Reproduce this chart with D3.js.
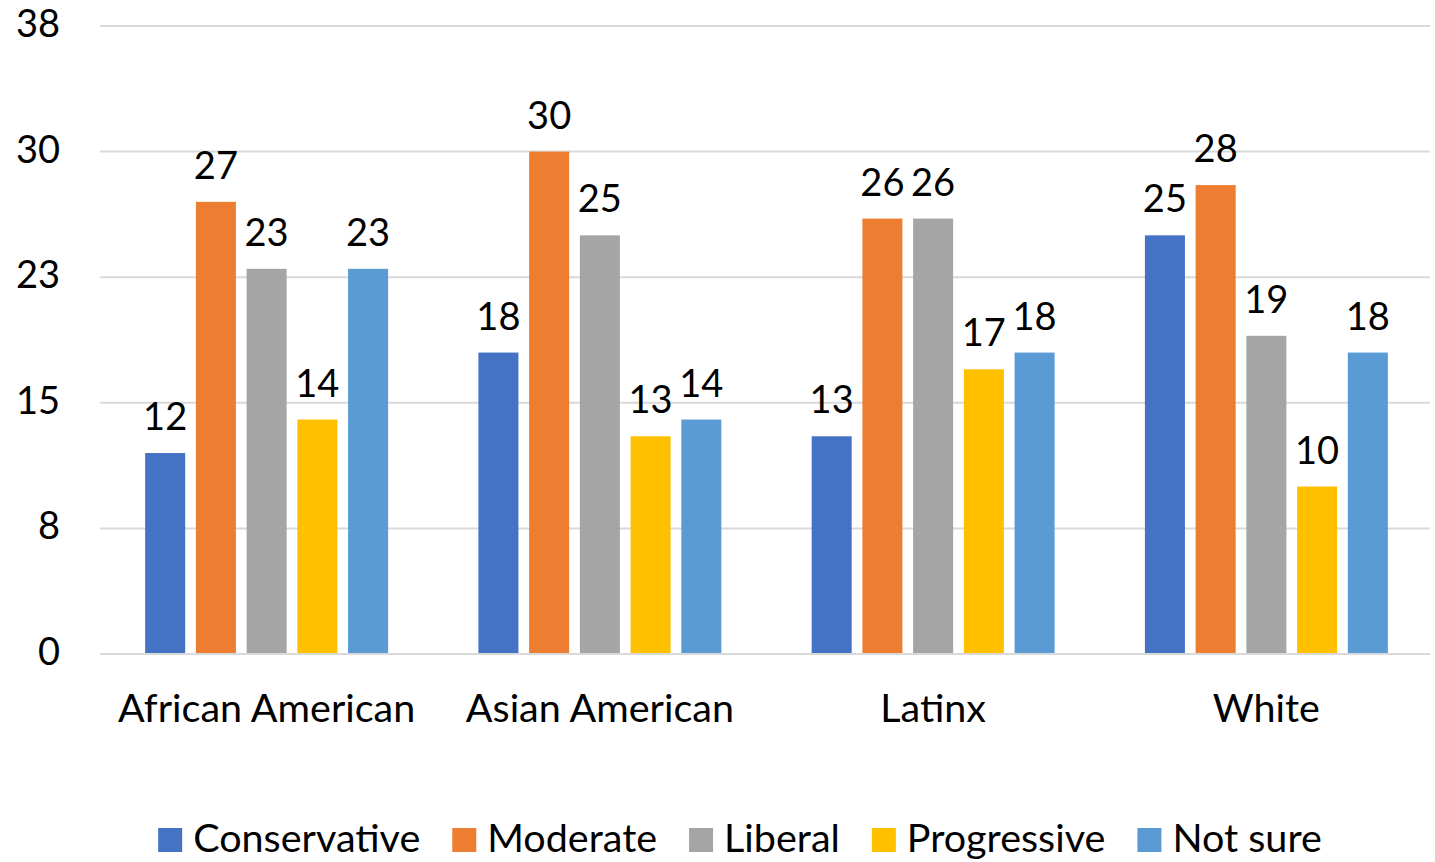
<!DOCTYPE html>
<html>
<head>
<meta charset="utf-8">
<script src="https://cdn.jsdelivr.net/npm/d3@7"></script>
<style>
  body { margin: 0; background: #fff; }
  svg text { font-family: Lato, "Open Sans", sans-serif; fill: #000; }
</style>
</head>
<body>
<div id="chart"></div>
<script>
// categories and series
var groups = ["African American", "Asian American", "Latinx", "White"];
var seriesNames = ["Conservative", "Moderate", "Liberal", "Progressive", "Not sure"];
var seriesColors = ["#4472C4", "#ED7D31", "#A5A5A5", "#FFC000", "#5B9BD5"];

var conservative = [12, 18, 13, 25];
var moderate = [27, 30, 26, 28];
var liberal = [23, 25, 26, 19];
var progressive = [14, 13, 17, 10];
var notSure = [23, 14, 18, 18];

var yTicks = [0, 7.5, 15, 22.5, 30, 37.5];

var seriesValues = [conservative, moderate, liberal, progressive, notSure];

var W = 1435, H = 862;
var plot = { left: 100, right: 1433, top: 26, bottom: 654 };
var fontSize = 38, labelSize = 39.5;

var svg = d3.select("#chart").append("svg")
  .attr("width", W)
  .attr("height", H);

var x0 = d3.scaleBand().domain(groups).range([plot.left, plot.right]).padding(0);
var x1 = d3.scaleBand().domain(seriesNames).range([0, x0.bandwidth()])
  .paddingInner(0.211).paddingOuter(0.89);
var y = d3.scaleLinear().domain([0, 37.5]).range([plot.bottom, plot.top]);

// gridlines
svg.append("g")
  .attr("class", "grid")
  .selectAll("line")
  .data(yTicks.slice(1))
  .enter().append("line")
  .attr("x1", 100).attr("x2", 1430)
  .attr("y1", function(d) { return y(d); })
  .attr("y2", function(d) { return y(d); })
  .attr("stroke", "#D9D9D9")
  .attr("stroke-width", 2);

// y tick labels
svg.append("g")
  .selectAll("text")
  .data(yTicks)
  .enter().append("text")
  .attr("x", 60)
  .attr("y", function(d) { return y(d) + 11; })
  .attr("text-anchor", "end")
  .style("font-size", fontSize + "px")
  .text(function(d) { return Math.round(d); });

// bars
var rows = [];
groups.forEach(function(g, gi) {
  seriesNames.forEach(function(s, si) {
    rows.push({ group: g, series: s, color: seriesColors[si], val: seriesValues[si][gi] });
  });
});

svg.append("g")
  .selectAll("rect")
  .data(rows)
  .enter().append("rect")
  .attr("x", function(d) { return x0(d.group) + x1(d.series); })
  .attr("y", function(d) { return y(d.val); })
  .attr("width", x1.bandwidth())
  .attr("height", function(d) { return y(0) - y(d.val); })
  .attr("fill", function(d) { return d.color; });

// data labels
svg.append("g")
  .selectAll("text")
  .data(rows)
  .enter().append("text")
  .attr("x", function(d) { return x0(d.group) + x1(d.series) + x1.bandwidth() / 2; })
  .attr("y", function(d) { return y(d.val) - 23; })
  .attr("text-anchor", "middle")
  .style("font-size", fontSize + "px")
  .text(function(d) { return d.val; });

// baseline axis
svg.append("line")
  .attr("x1", 100).attr("x2", 1430)
  .attr("y1", y(0)).attr("y2", y(0))
  .attr("stroke", "#D9D9D9")
  .attr("stroke-width", 2);

// category labels
svg.append("g")
  .selectAll("text")
  .data(groups)
  .enter().append("text")
  .attr("x", function(d) { return x0(d) + x0.bandwidth() / 2; })
  .attr("y", 722)
  .attr("text-anchor", "middle")
  .style("font-size", labelSize + "px")
  .text(function(d) { return d; });

// legend
var legend = svg.append("g");
var items = legend.selectAll("g")
  .data(seriesNames)
  .enter().append("g");
items.append("rect")
  .attr("width", 24).attr("height", 24)
  .attr("y", 828)
  .attr("fill", function(d, i) { return seriesColors[i]; });
items.append("text")
  .attr("x", 35)
  .attr("y", 852)
  .style("font-size", labelSize + "px")
  .text(function(d) { return d; });

var offset = 0;
var positions = [];
items.each(function() {
  var tw = d3.select(this).select("text").node().getComputedTextLength();
  positions.push(offset);
  offset += 35 + tw + 32;
});
var totalW = offset - 32;
var startX = 740 - totalW / 2;
items.attr("transform", function(d, i) { return "translate(" + (startX + positions[i]) + ",0)"; });
</script>
</body>
</html>
